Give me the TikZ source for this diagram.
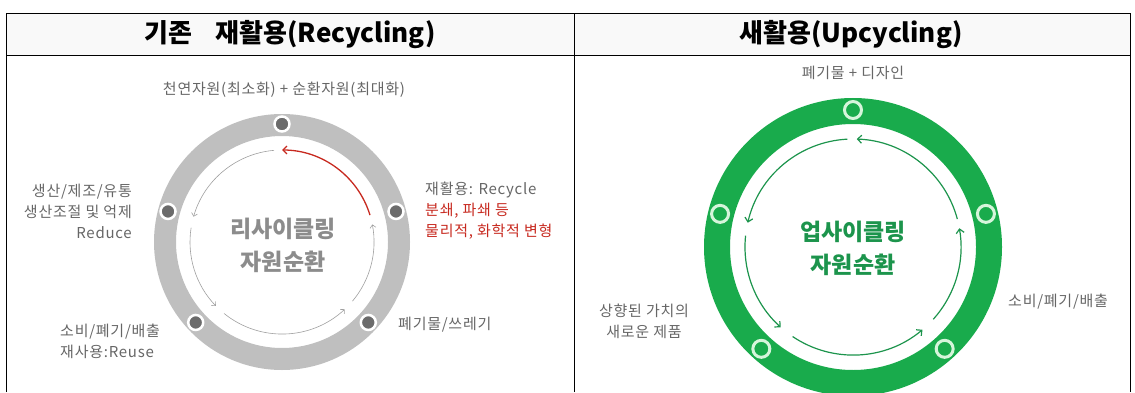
\documentclass[tikz,border=0pt]{standalone}
\usepackage{fontspec}
\setmainfont{Noto Sans CJK KR}
\newfontfamily\krwide[LetterSpace=5]{Noto Sans CJK KR}
\usepackage{tikz}
\usetikzlibrary{arrows.meta}
\definecolor{mygray}{rgb}{0.75,0.75,0.75}
\definecolor{mydark}{rgb}{0.42,0.42,0.42}
\definecolor{mytext}{rgb}{0.40,0.40,0.40}
\definecolor{myred}{rgb}{0.78,0.16,0.12}
\definecolor{mygreen}{rgb}{0.10,0.67,0.30}
\definecolor{mylight}{rgb}{0.84,0.96,0.86}
\definecolor{mydarkgreen}{rgb}{0.11,0.58,0.30}

\begin{document}
\begin{tikzpicture}[x=1pt, y=1pt, >=latex,
    label/.style={text=mytext, inner sep=0, font=\krwide\fontsize{15}{21}\selectfont},
    title/.style={inner sep=0, font=\fontsize{26}{30}\selectfont\bfseries},
    core/.style={inner sep=0, align=center, font=\fontsize{23}{33}\selectfont\bfseries},
    dotgray/.style={circle, fill=mydark, draw=white, line width=2.5, minimum size=15, inner sep=0},
    dotgreen/.style={circle, fill=mygreen, draw=mylight, line width=3, minimum size=17, inner sep=0},
    thin arrow/.style={gray!75, line width=0.6, -{Straight Barb[length=3pt, width=6pt]}},
    red arrow/.style={myred, line width=1.3, -{Straight Barb[length=4pt, width=8pt]}},
    green arrow/.style={mydarkgreen, line width=1.2, -{Straight Barb[length=4pt, width=8pt]}}]
    \useasboundingbox (0,0) rectangle (1135,392);
    \fill[gray!5] (6,337) rectangle (1130,379);
    \draw[black, line width=0.8] (6,0) -- (6,379) -- (1130,379) -- (1130,0);
    \draw[black, line width=0.8] (6,337) -- (1130,337);
    \draw[black, line width=0.8] (574,0) -- (574,379);
    \node[title] (headL) at (290,357) {기존\hspace{0.9em}재활용(Recycling)};
    \node[title] (headR) at (851,357) {새활용(Upcycling)};

    \coordinate (lc) at (282,150);
    \draw[mygray, line width=22] (lc) circle (117);
    \draw[thin arrow] (lc) ++(95:92) arc[start angle=95, end angle=164, radius=92];
    \draw[thin arrow] (lc) ++(171:92) arc[start angle=171, end angle=224, radius=92];
    \draw[thin arrow] (lc) ++(231:92) arc[start angle=231, end angle=313, radius=92];
    \draw[thin arrow] (lc) ++(320:92) arc[start angle=320, end angle=371, radius=92];
    \draw[red arrow] (lc) ++(17:92) arc[start angle=17, end angle=90, radius=92];
    \path (lc) ++(90:118) node[dotgray] (ltop) {};
    \path (lc) ++(165:118) node[dotgray] (lleft) {};
    \path (lc) ++(15:118) node[dotgray] (lright) {};
    \path (lc) ++(223:118) node[dotgray] (lbl) {};
    \path (lc) ++(317:118) node[dotgray] (lbr) {};
    \node[core, text=gray!90] (coreL) at (283,147) {리사이클링\\자원순환};
    \node[label] (sourceL) at (284,302) {천연자원(최소화) + 순환자원(최대화)};
    \node[label, anchor=west, align=left] (recycle) at (425,181) {재활용: Recycle\\\textcolor{myred}{분쇄, 파쇄 등}\\\textcolor{myred}{물리적, 화학적 변형}};
    \node[label, anchor=east, align=right] (reduce) at (132,181) {생산/제조/유통\\생산조절 및 억제\\Reduce};
    \node[label, anchor=west, align=left] (reuse) at (60,51) {소비/폐기/배출\\재사용:Reuse};
    \node[label, anchor=west] (waste) at (398,67) {폐기물/쓰레기};

    \coordinate (rc) at (853,145);
    \draw[mygreen, line width=26] (rc) circle (136);
    \draw[green arrow] (rc) ++(15:108) arc[start angle=15, end angle=88, radius=108];
    \draw[green arrow] (rc) ++(93:108) arc[start angle=93, end angle=167, radius=108];
    \draw[green arrow] (rc) ++(174:108) arc[start angle=174, end angle=228, radius=108];
    \draw[green arrow] (rc) ++(236:108) arc[start angle=236, end angle=310, radius=108];
    \draw[green arrow] (rc) ++(318:108) arc[start angle=318, end angle=370, radius=108];
    \path (rc) ++(90:137) node[dotgreen] (rtop) {};
    \path (rc) ++(166:137) node[dotgreen] (rleft) {};
    \path (rc) ++(14:137) node[dotgreen] (rright) {};
    \path (rc) ++(228:137) node[dotgreen] (rbl) {};
    \path (rc) ++(312:137) node[dotgreen] (rbr) {};
    \node[core, text=mydarkgreen] (coreR) at (853,144) {업사이클링\\자원순환};
    \node[label] (sourceR) at (853,319) {폐기물 + 디자인};
    \node[label, align=center] (product) at (644,71) {상향된 가치의\\새로운 제품};
    \node[label, anchor=west] (consume) at (1008,90) {소비/폐기/배출};
\end{tikzpicture}
\end{document}
